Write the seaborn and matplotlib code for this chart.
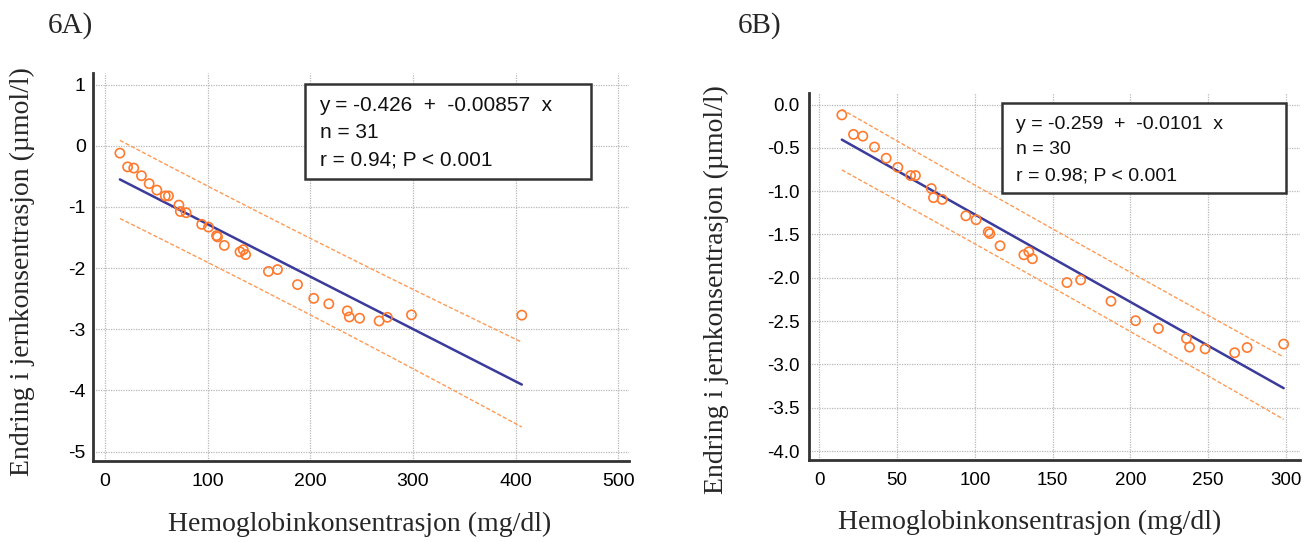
import numpy as np
import pandas as pd
import matplotlib
matplotlib.use("Agg")
import matplotlib.pyplot as plt
from matplotlib.patches import Rectangle
from matplotlib.ticker import MultipleLocator, FormatStrFormatter
import seaborn as sns

# ---------------- data ----------------
hb_6a = [14.5, 22, 28, 35.5, 43, 50.5, 58.7, 61.8, 72, 73.4, 79, 94.2, 100.8,
         108.6, 109.6, 116.2, 131.5, 134.7, 137, 159.2, 168, 187.5, 203.3, 218,
         236, 238, 248, 267, 275, 298.5, 406]
fe_6a = [-0.12, -0.345, -0.365, -0.49, -0.62, -0.725, -0.82, -0.82, -0.97, -1.075,
         -1.095, -1.285, -1.33, -1.47, -1.49, -1.63, -1.735, -1.70, -1.78, -2.055,
         -2.025, -2.27, -2.495, -2.585, -2.70, -2.80, -2.82, -2.865, -2.805, -2.765,
         -2.77]
hb_6b = [14.5, 22, 28, 35.5, 43, 50.5, 58.7, 61.8, 72, 73.4, 79, 94.2, 100.8,
         108.6, 109.6, 116.2, 131.5, 134.7, 137, 159.2, 168, 187.5, 203.3, 218,
         236, 238, 248, 267, 275, 298.5]
fe_6b = [-0.12, -0.345, -0.365, -0.49, -0.62, -0.725, -0.82, -0.82, -0.97, -1.075,
         -1.095, -1.285, -1.33, -1.47, -1.49, -1.63, -1.735, -1.70, -1.78, -2.055,
         -2.025, -2.27, -2.495, -2.585, -2.70, -2.80, -2.82, -2.865, -2.805, -2.765]

coef_6a = (-0.426, -0.00857)
coef_6b = (-0.259, -0.0101)
t_6a, t_6b = 2.045, 2.048

box_6a = ["y = -0.426  +  -0.00857  x", "n = 31", "r = 0.94; P < 0.001"]
box_6b = ["y = -0.259  +  -0.0101  x", "n = 30", "r = 0.98; P < 0.001"]

xticks_6a = [0, 100, 200, 300, 400, 500]
yticks_6a = [1, 0, -1, -2, -3, -4, -5]
xticks_6b = [0, 50, 100, 150, 200, 250, 300]
yticks_6b = [0.0, -0.5, -1.0, -1.5, -2.0, -2.5, -3.0, -3.5, -4.0]

xlabel = "Hemoglobinkonsentrasjon (mg/dl)"
ylabel = "Endring i jernkonsentrasjon (µmol/l)"

# ---------------- style ----------------
sns.set_style("white")
plt.rcParams["font.family"] = ["Liberation Sans", "DejaVu Sans"]
plt.rcParams["axes.unicode_minus"] = False

W, H = 1316, 542
fig = plt.figure(figsize=(W / 100, H / 100), dpi=100)

ORANGE = "#ff7a2e"
ORANGE_D = "#ff9a55"
NAVY = "#3b3b9c"
SPINE = "#333333"


def fx(px):
    return px / W


def fy(py):
    return 1 - py / H


def band(x, y, coef, t, xs):
    x = np.asarray(x, float)
    y = np.asarray(y, float)
    a, b = coef
    n = len(x)
    resid = y - (a + b * x)
    s = np.sqrt(np.sum(resid ** 2) / (n - 2))
    xm = x.mean()
    sxx = np.sum((x - xm) ** 2)
    hw = t * s * np.sqrt(1 + 1 / n + (xs - xm) ** 2 / sxx)
    return a + b * xs, hw


def panel(rect, x, y, coef, t, xlim, ylim, xticks, yticks, minor, yfmt, fs_tick,
          pad_y, pad_x):
    ax = fig.add_axes(rect)
    df = pd.DataFrame({"hb": x, "fe": y})
    xs = np.linspace(min(x), max(x), 200)
    fit, hw = band(x, y, coef, t, xs)
    lines = pd.DataFrame({"hb": xs, "fit": fit, "lo": fit - hw, "hi": fit + hw})
    sns.lineplot(data=lines, x="hb", y="hi", ax=ax, color=ORANGE_D, lw=1.0,
                 linestyle=(0, (3, 1.5)))
    sns.lineplot(data=lines, x="hb", y="lo", ax=ax, color=ORANGE_D, lw=1.0,
                 linestyle=(0, (3, 1.5)))
    sns.lineplot(data=lines, x="hb", y="fit", ax=ax, color=NAVY, lw=1.8)
    sns.scatterplot(data=df, x="hb", y="fe", ax=ax, marker="o", s=44,
                    facecolors="none", edgecolor=ORANGE, linewidth=1.2, zorder=5)
    ax.set_xlim(*xlim)
    ax.set_ylim(*ylim)
    ax.set_xticks(xticks)
    ax.set_yticks(yticks)
    if yfmt:
        ax.yaxis.set_major_formatter(FormatStrFormatter(yfmt))
    if minor:
        ax.xaxis.set_minor_locator(MultipleLocator(minor[0]))
        ax.yaxis.set_minor_locator(MultipleLocator(minor[1]))
    ax.grid(True, which="major", color="#b8b8b8", linestyle=(0, (1, 1)), lw=0.9)
    ax.set_axisbelow(True)
    for side in ["top", "right"]:
        ax.spines[side].set_visible(False)
    for side in ["left", "bottom"]:
        ax.spines[side].set_color(SPINE)
        ax.spines[side].set_linewidth(2.0)
    ax.tick_params(which="major", direction="in", length=7.5, width=1.6,
                   color=SPINE, labelsize=fs_tick, labelcolor="black")
    ax.tick_params(axis="y", which="major", pad=pad_y)
    ax.tick_params(axis="x", which="major", pad=pad_x)
    ax.tick_params(which="minor", direction="in", length=3.5, width=1.2,
                   color=SPINE)
    ax.set_xlabel("")
    ax.set_ylabel("")
    return ax


# panel 6A
axA = panel([fx(93.3), fy(461), fx(629.3) - fx(93.3), fy(73) - fy(461)],
            hb_6a, fe_6a, coef_6a, t_6a, (-11.4, 510.7), (-5.155, 1.19),
            xticks_6a, yticks_6a, (50, 0.5), None, 14, 5.5, 8.5)
# panel 6B
axB = panel([fx(808.7), fy(460), fx(1300) - fx(808.7), fy(93) - fy(460)],
            hb_6b, fe_6b, coef_6b, t_6b, (-6.8, 309), (-4.103, 0.133),
            xticks_6b, yticks_6b, None, "%.1f", 13.5, 6.5, 8.5)

# annotation boxes
def textbox(left, top, right, bottom, tx, baselines, lines, fs):
    fig.patches.append(Rectangle((fx(left), fy(bottom)), fx(right) - fx(left),
                                 fy(top) - fy(bottom), transform=fig.transFigure,
                                 fill=True, facecolor="white", edgecolor=SPINE,
                                 lw=1.8, zorder=10))
    for yb, s in zip(baselines, lines):
        fig.text(fx(tx), fy(yb), s, fontsize=fs, va="baseline", ha="left",
                 color="#111111", zorder=11)


textbox(304.7, 84, 591, 179.3, 319.5, [110.7, 138.3, 165], box_6a, 15)
textbox(1001.7, 103.3, 1286, 192.7, 1015.5, [129.3, 154, 180.7], box_6b, 14)

# axis labels (Times-like serif)
serif = ["Liberation Serif", "DejaVu Serif"]
fig.text(fx(360), fy(524), xlabel, family=serif, fontsize=20, ha="center",
         va="center")
fig.text(fx(1030), fy(522), xlabel, family=serif, fontsize=20, ha="center",
         va="center")
fig.text(fx(22), fy(272), ylabel, family=serif, fontsize=20, ha="center",
         va="center", rotation=90)
fig.text(fx(716), fy(290), ylabel, family=serif, fontsize=20, ha="center",
         va="center", rotation=90)

# panel tags
fig.text(fx(48), fy(26), "6A)", family=serif, fontsize=21, ha="left", va="center")
fig.text(fx(738), fy(26), "6B)", family=serif, fontsize=21, ha="left", va="center")

fig.savefig("out.png", dpi=100)
